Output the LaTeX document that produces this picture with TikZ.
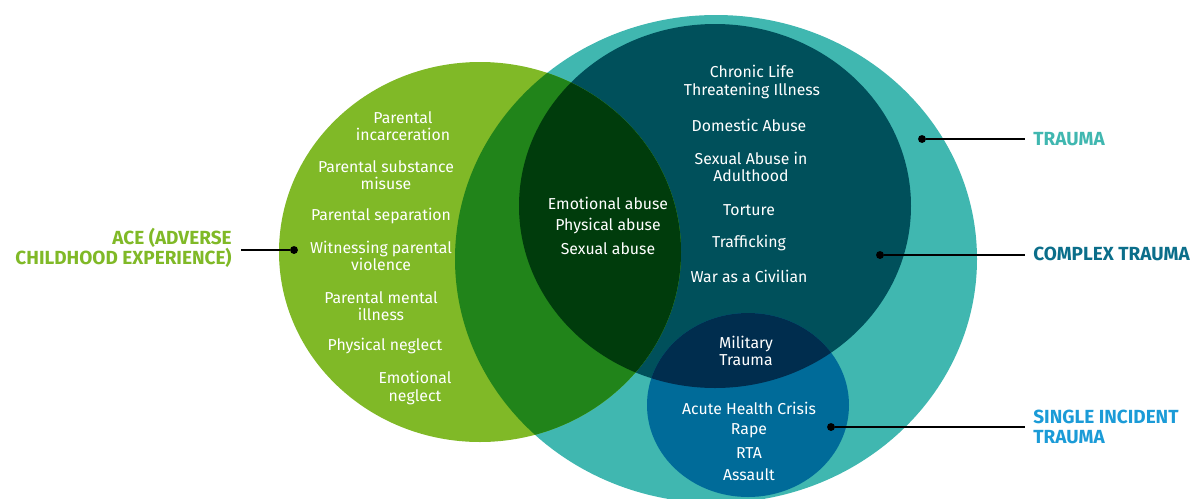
\documentclass[tikz,border=0pt]{standalone}
\usepackage{fontspec}
\setmainfont{Fira Sans}

\definecolor{acegreen}{HTML}{80B927}
\definecolor{midgreen}{HTML}{21841A}
\definecolor{deepgreen}{HTML}{003C0C}
\definecolor{traumateal}{HTML}{40B7B0}
\definecolor{complexteal}{HTML}{00505B}
\definecolor{singleblue}{HTML}{006B99}
\definecolor{navyblue}{HTML}{002D4E}
\definecolor{complexlabel}{HTML}{0B6E8A}
\definecolor{singlelabel}{HTML}{1B9BD7}

\begin{document}
\begin{tikzpicture}[x=0.02cm, y=-0.02cm,
    item/.style={text=white, align=center, inner sep=0pt, font=\fontsize{9}{9.8}\selectfont},
    tag/.style={inner sep=0pt, font=\bfseries\fontsize{10.8}{11.6}\selectfont},
    dot/.style={circle, fill=black, inner sep=0pt, minimum size=4.5pt},
    lead/.style={line width=0.6pt}]
    \useasboundingbox (0, 0) rectangle (1198, 498);

    \fill [traumateal] (716, 259) ellipse [x radius=261, y radius=244];
    \fill [complexteal] (715, 206) ellipse [x radius=196, y radius=182];
    \fill [singleblue] (748, 405) ellipse [x radius=101, y radius=92];
    \begin{scope}
        \clip (715, 206) ellipse [x radius=196, y radius=182];
        \fill [navyblue] (748, 405) ellipse [x radius=101, y radius=92];
    \end{scope}

    \fill [acegreen] (480, 252) ellipse [x radius=201, y radius=190];
    \begin{scope}
        \clip (480, 252) ellipse [x radius=201, y radius=190];
        \fill [midgreen] (716, 259) ellipse [x radius=261, y radius=244];
        \fill [deepgreen] (715, 206) ellipse [x radius=196, y radius=182];
    \end{scope}

    \node [item] (incarceration) at (403, 126) {Parental\\incarceration};
    \node [item] (substance) at (386, 175) {Parental substance\\misuse};
    \node [item] (separation) at (381, 216) {Parental separation};
    \node [item] (violence) at (381, 256) {Witnessing parental\\violence};
    \node [item] (mental) at (381, 306) {Parental mental\\illness};
    \node [item] (physneglect) at (385, 346) {Physical neglect};
    \node [item] (emoneglect) at (415, 388) {Emotional\\neglect};

    \node [item] (emoabuse) at (608, 203) {Emotional abuse};
    \node [item] (physabuse) at (608, 226) {Physical abuse};
    \node [item] (sexabuse) at (608, 249) {Sexual abuse};

    \node [item] (illness) at (752, 82) {Chronic Life\\Threatening Illness};
    \node [item] (domestic) at (749, 125) {Domestic Abuse};
    \node [item] (adulthood) at (751, 167) {Sexual Abuse in\\Adulthood};
    \node [item] (torture) at (749, 210) {Torture};
    \node [item] (trafficking) at (749, 243) {Trafficking};
    \node [item] (civilian) at (749, 276) {War as a Civilian};
    \node [item] (military) at (746, 351) {Military\\Trauma};

    \node [item] (crisis) at (749, 408) {Acute Health Crisis};
    \node [item] (rape) at (749, 431) {Rape};
    \node [item] (rta) at (749, 453) {RTA};
    \node [item] (assault) at (749, 475) {Assault};

    \node [dot] (aceDot) at (294, 250) {};
    \node [dot] (traumaDot) at (922, 139) {};
    \node [dot] (complexDot) at (880, 255) {};
    \node [dot] (singleDot) at (831, 427) {};

    \coordinate (aceEnd) at (241, 250);
    \coordinate (traumaEnd) at (1025, 139);
    \coordinate (complexEnd) at (1025, 255);
    \coordinate (singleEnd) at (1025, 427);

    \draw [lead] (aceDot) -- (aceEnd);
    \draw [lead] (traumaDot) -- (traumaEnd);
    \draw [lead] (complexDot) -- (complexEnd);
    \draw [lead] (singleDot) -- (singleEnd);

    \node [tag, text=acegreen, align=right, anchor=east] (aceLabel) at (232, 248) {ACE (ADVERSE\\CHILDHOOD EXPERIENCE)};
    \node [tag, text=traumateal, anchor=west] (traumaLabel) at (1033, 139) {TRAUMA};
    \node [tag, text=complexlabel, anchor=west] (complexLabel) at (1033, 254) {COMPLEX TRAUMA};
    \node [tag, text=singlelabel, align=left, anchor=west] (singleLabel) at (1033, 427) {SINGLE INCIDENT\\TRAUMA};
\end{tikzpicture}
\end{document}
